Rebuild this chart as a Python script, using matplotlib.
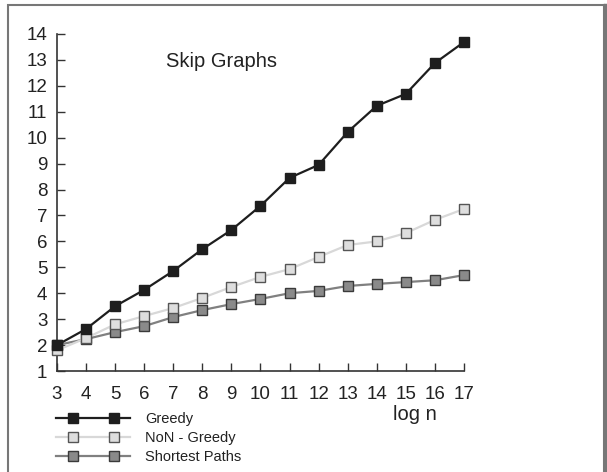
import numpy as np
import matplotlib
matplotlib.use('Agg')
import matplotlib.pyplot as plt
from matplotlib.lines import Line2D
from matplotlib.patches import Rectangle
from matplotlib.legend_handler import HandlerLine2D

plt.rcParams['font.family'] = ['Liberation Sans', 'DejaVu Sans']

# log n on the x axis
log_n = list(range(3, 18))
greedy = [2.0, 2.62, 3.5, 4.13, 4.86, 5.7, 6.44, 7.37, 8.45, 8.95, 10.22, 11.23, 11.69, 12.88, 13.69]
non_greedy = [1.8, 2.27, 2.8, 3.12, 3.43, 3.82, 4.24, 4.63, 4.93, 5.4, 5.86, 6.0, 6.32, 6.83, 7.25]
shortest = [2.0, 2.23, 2.5, 2.73, 3.08, 3.35, 3.58, 3.78, 4.0, 4.09, 4.28, 4.36, 4.43, 4.5, 4.7]


class TwoMarkerHandler(HandlerLine2D):
    # line across the whole handle, two markers set in from the ends
    def create_artists(self, legend, orig_handle, xdescent, ydescent,
                       width, height, fontsize, trans):
        y = ((height - ydescent) / 2.0)
        pad = 12
        line = Line2D([-xdescent, -xdescent + width], [y, y])
        self.update_prop(line, orig_handle, legend)
        line.set_marker('None')
        marks = Line2D([-xdescent + pad, -xdescent + width - pad], [y, y])
        self.update_prop(marks, orig_handle, legend)
        marks.set_linestyle('None')
        marks.set_markersize(6.5)
        line.set_transform(trans)
        marks.set_transform(trans)
        return [line, marks]


fig = plt.figure(figsize=(6.07, 4.72), dpi=100)
ax = fig.add_axes([57 / 607, 101 / 472, 407 / 607, 337 / 472])

ax.plot(log_n, shortest, color='#808080', lw=1.6, marker='s', ms=6.8,
        mfc='#8a8a8a', mec='#3a3a3a', mew=1.0, label='Shortest Paths',
        zorder=2, clip_on=False)
ax.plot(log_n, non_greedy, color='#d8d8d8', lw=1.6, marker='s', ms=6.8,
        mfc='#dedede', mec='#555555', mew=1.0, label='NoN - Greedy',
        zorder=3, clip_on=False)
ax.plot(log_n, greedy, color='#1e1e1e', lw=1.6, marker='s', ms=6.8,
        mfc='#1e1e1e', mec='#1e1e1e', mew=1.0, label='Greedy',
        zorder=4, clip_on=False)

ax.set_xlim(3, 17)
ax.set_ylim(1, 14)
ax.set_xticks(log_n)
ax.set_yticks(range(1, 15))
for s in ['top', 'right']:
    ax.spines[s].set_visible(False)
for s in ['left', 'bottom']:
    ax.spines[s].set_color('#333333')
    ax.spines[s].set_linewidth(1.2)
ax.tick_params(direction='in', length=6, width=1.0, color='#333333',
               labelsize=13.5, pad=7)
ax.tick_params(axis='x', pad=11)
for lab in ax.get_xticklabels() + ax.get_yticklabels():
    lab.set_color('#222222')

ax.text(0.405, 0.917, 'Skip Graphs', transform=ax.transAxes, fontsize=14.5,
        ha='center', va='center', color='#222222')
fig.text(415 / 607, 1 - 414 / 472, 'log n', fontsize=14.5, ha='center',
         va='center', color='#222222')

handles, labels = ax.get_legend_handles_labels()
order = [2, 1, 0]
leg = fig.legend([handles[i] for i in order], [labels[i] for i in order],
                 loc='upper left', bbox_to_anchor=(50 / 607, 1 - 406 / 472),
                 frameon=False, fontsize=10.5, handlelength=5.1,
                 handletextpad=1.0, labelspacing=0.36, borderaxespad=0,
                 handler_map={Line2D: TwoMarkerHandler()})
for t in leg.get_texts():
    t.set_color('#222222')

# outer frame
fig.patches.append(Rectangle((7.5 / 607, -0.05), 596.5 / 607, 1.05 - 5 / 472,
                             transform=fig.transFigure, fill=False,
                             edgecolor='#777777', lw=1.5))
fig.lines.append(Line2D([604.5 / 607, 604.5 / 607], [0, 1 - 5 / 472],
                        transform=fig.transFigure, color='#777777', lw=2.5))

fig.savefig('out.png', dpi=100)
